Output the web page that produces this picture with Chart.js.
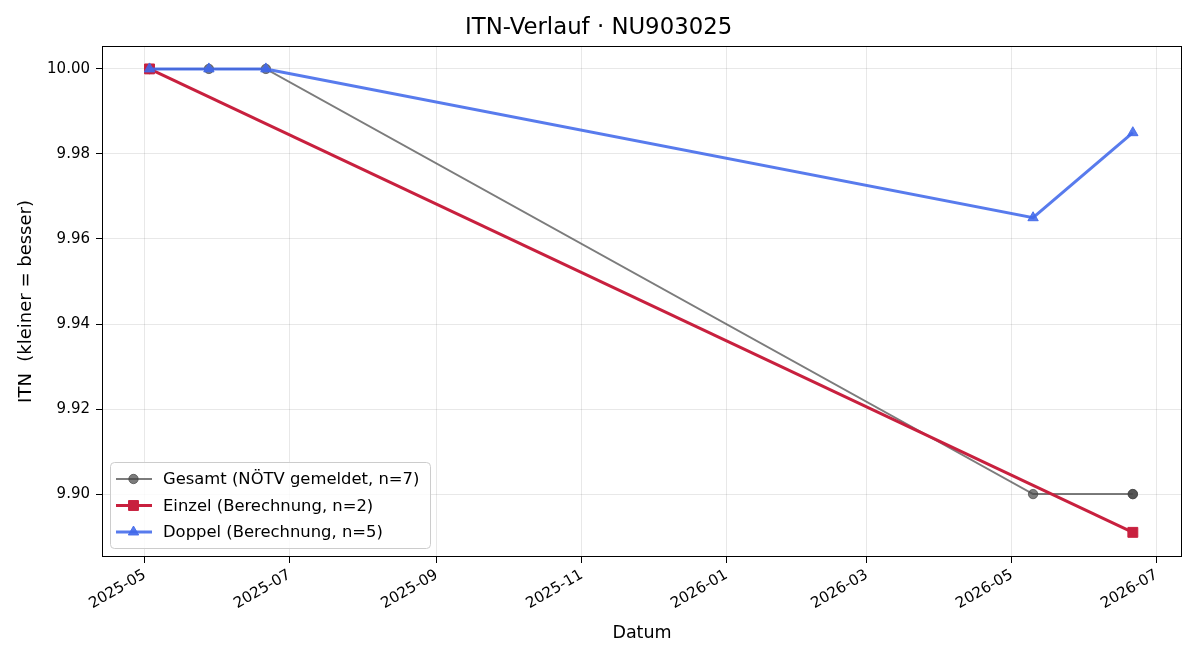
<!DOCTYPE html>
<html>
<head>
<meta charset="utf-8">
<script src="https://cdn.jsdelivr.net/npm/chart.js@4"></script>
<style>
  html, body { margin: 0; padding: 0; background: #fff; }
  #wrap { width: 1200px; height: 660px; }
</style>
</head>
<body>
<div id="wrap"><canvas id="itnChart" width="1200" height="660"></canvas></div>
<script>
// ITN history chart

const gesamtDates = ['2025-05-03', '2025-05-03', '2025-05-28', '2025-06-21', '2026-05-10', '2026-06-21', '2026-06-21'];
const gesamtITN   = [10.00, 10.00, 10.00, 10.00, 9.90, 9.90, 9.90];

const einzelDates = ['2025-05-03', '2026-06-21'];
const einzelITN   = [10.00, 9.891];

const doppelDates = ['2025-05-03', '2025-05-28', '2025-06-21', '2026-05-10', '2026-06-21'];
const doppelITN   = [10.00, 10.00, 10.00, 9.965, 9.985];

const xTickLabels = ['2025-05', '2025-07', '2025-09', '2025-11', '2026-01', '2026-03', '2026-05', '2026-07'];
const yTickValues = [9.90, 9.92, 9.94, 9.96, 9.98, 10.00];

const FONT = 'DejaVu Sans';
const DAY = 86400000;

// date string -> day number (x axis is linear in days)
function toDay(s) {
  if (s.length === 7) s += '-01';
  return Date.parse(s + 'T00:00:00Z') / DAY;
}
function dayLabel(v) {
  const d = new Date(Math.round(v) * DAY);
  return d.getUTCFullYear() + '-' + String(d.getUTCMonth() + 1).padStart(2, '0');
}
function points(dates, vals) {
  return dates.map((d, i) => ({ x: toDay(d), y: vals[i] }));
}

const series = [
  { label: 'Gesamt (NÖTV gemeldet, n=7)', color: 'rgba(68,68,68,0.7)', width: 2, style: 'circle', radius: 4.7, data: points(gesamtDates, gesamtITN), order: 3 },
  { label: 'Einzel (Berechnung, n=2)', color: '#c8203e', width: 3, style: 'rect', radius: 7, data: points(einzelDates, einzelITN), order: 2 },
  { label: 'Doppel (Berechnung, n=5)', color: 'rgba(65,105,235,0.88)', width: 3, style: 'triangle', radius: 6, data: points(doppelDates, doppelITN), order: 1 },
];

// ── frame + legend drawn like the original ─────────────
const framePlugin = {
  id: 'frame',
  afterDraw(chart) {
    const { ctx, chartArea: a } = chart;
    ctx.save();
    ctx.strokeStyle = '#000';
    ctx.lineWidth = 1;
    ctx.strokeRect(Math.round(a.left) + 0.5, Math.round(a.top) + 0.5,
                   Math.round(a.right - a.left) - 1, Math.round(a.bottom - a.top) - 1);

    // legend box lower left
    const bx = a.left + 8, bw = 320, bh = 86, by = a.bottom - 9 - bh;
    ctx.fillStyle = 'rgba(255,255,255,0.8)';
    ctx.strokeStyle = '#cccccc';
    ctx.beginPath();
    ctx.roundRect(bx + 0.5, by + 0.5, bw, bh, 4);
    ctx.fill();
    ctx.stroke();

    ctx.font = '16.4px "' + FONT + '"';
    ctx.textBaseline = 'middle';
    series.forEach((s, i) => {
      const y = by + 17 + i * 26.5;
      ctx.strokeStyle = s.color;
      ctx.lineWidth = s.width;
      ctx.beginPath();
      ctx.moveTo(bx + 6, y);
      ctx.lineTo(bx + 42, y);
      ctx.stroke();
      ctx.fillStyle = s.color;
      ctx.strokeStyle = s.color;
      ctx.lineWidth = 1;
      Chart.helpers.drawPoint(ctx, { pointStyle: s.style, radius: s.radius, borderWidth: 1 }, bx + 23.5, y);
      ctx.fillStyle = '#000';
      ctx.fillText(s.label, bx + 53, y + 1);
    });
    ctx.restore();
  }
};

new Chart(document.getElementById('itnChart'), {
  type: 'line',
  data: {
    datasets: series.map(s => ({
      label: s.label,
      data: s.data,
      borderColor: s.color,
      backgroundColor: s.color,
      borderWidth: s.width,
      pointStyle: s.style,
      pointRadius: s.radius,
      pointBackgroundColor: s.color,
      pointBorderColor: s.color,
      pointBorderWidth: 1,
      tension: 0,
      fill: false,
      order: s.order,
    }))
  },
  options: {
    responsive: false,
    animation: false,
    events: [],
    layout: { padding: { left: 15.2, right: 18, top: 0, bottom: 16.2 } },
    plugins: {
      legend: { display: false },
      tooltip: { enabled: false },
      title: {
        display: true,
        text: 'ITN-Verlauf · NU903025',
        color: '#000',
        font: { family: FONT, size: 22.8, weight: 'normal' },
        padding: { top: 14.3, bottom: 4.3 },
      },
    },
    scales: {
      x: {
        type: 'linear',
        min: toDay('2025-05-01') - 18,
        max: toDay('2026-07-01') + 10.7,
        afterBuildTicks: s => { s.ticks = xTickLabels.map(t => ({ value: toDay(t) })); },
        afterFit: s => { s.height = 86.8; },
        ticks: {
          callback: v => dayLabel(v),
          color: '#000',
          font: { family: FONT, size: 15 },
          minRotation: 30,
          maxRotation: 30,
          padding: 3,
          autoSkip: false,
        },
        grid: { color: 'rgba(0,0,0,0.09)', tickColor: '#000', tickLength: 6 },
        border: { display: false },
        title: { display: true, text: 'Datum', color: '#000', font: { family: FONT, size: 17.5 }, padding: 0 },
      },
      y: {
        type: 'linear',
        min: 9.8852,
        max: 10.0054,
        afterBuildTicks: s => { s.ticks = yTickValues.map(v => ({ value: v })); },
        afterFit: s => { s.width = 86.8; },
        ticks: {
          callback: v => v.toFixed(2),
          color: '#000',
          font: { family: FONT, size: 15 },
          padding: 6,
        },
        grid: { color: 'rgba(0,0,0,0.09)', tickColor: '#000', tickLength: 6 },
        border: { display: false },
        title: { display: true, text: 'ITN  (kleiner = besser)', color: '#000', font: { family: FONT, size: 18 }, padding: 0 },
      },
    },
  },
  plugins: [framePlugin],
});
</script>
</body>
</html>
